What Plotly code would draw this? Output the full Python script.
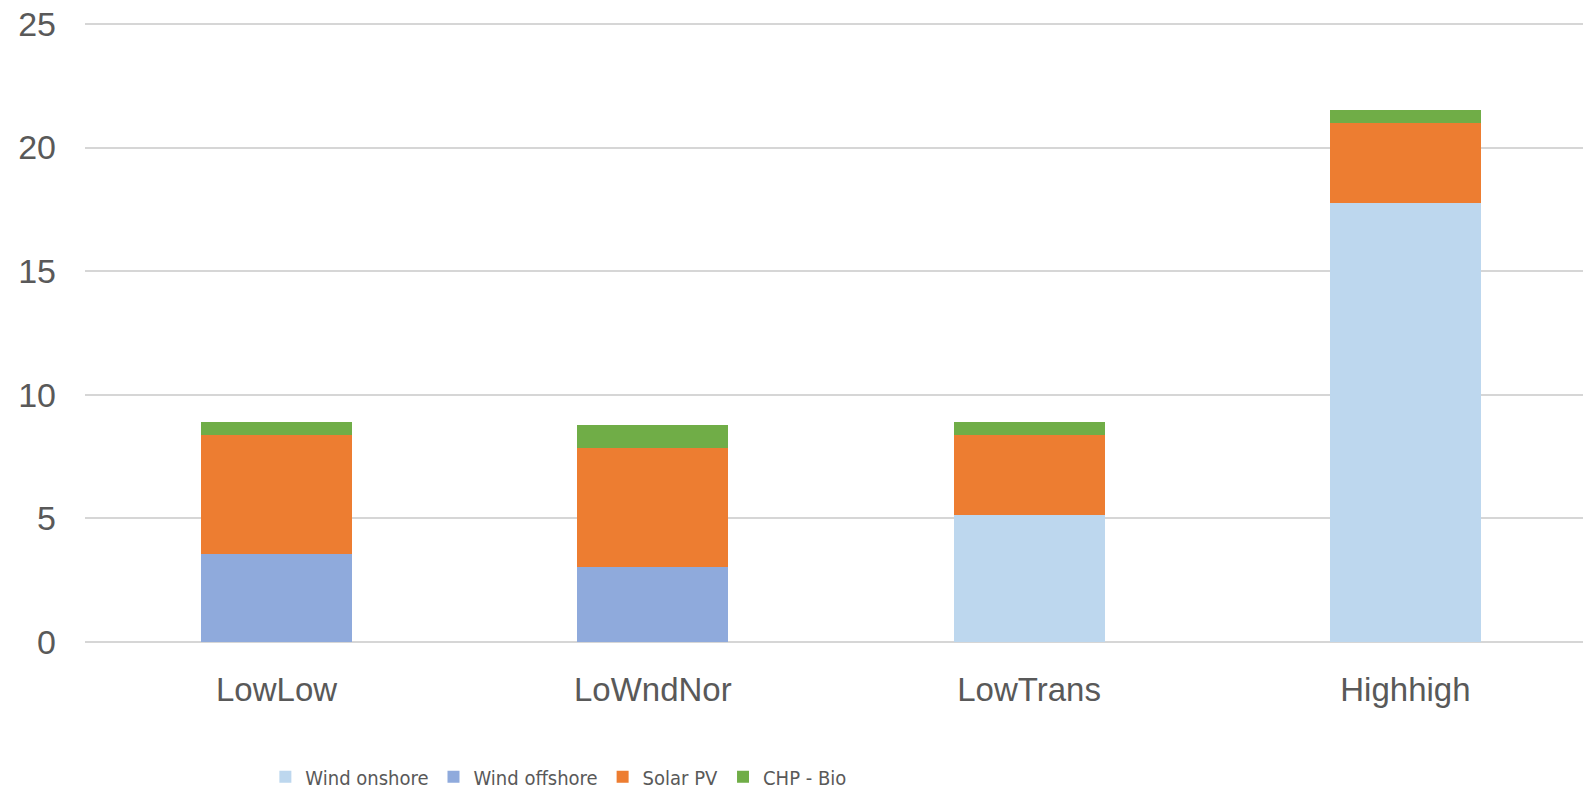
import plotly.graph_objects as go

categories = ["LowLow", "LoWndNor", "LowTrans", "Highhigh"]
wind_onshore = [0, 0, 5.14, 17.76]
wind_offshore = [3.57, 3.03, 0, 0]
solar_pv = [4.80, 4.83, 3.23, 3.24]
chp_bio = [0.53, 0.92, 0.53, 0.52]
y_ticks = [0, 5, 10, 15, 20, 25]

series = [
    ("Wind onshore", wind_onshore, "#BDD7EE"),
    ("Wind offshore", wind_offshore, "#8FAADC"),
    ("Solar PV", solar_pv, "#ED7D31"),
    ("CHP - Bio", chp_bio, "#70AD47"),
]

fig = go.Figure()
for name, vals, col in series:
    fig.add_trace(go.Bar(
        x=categories, y=vals, name=name, marker=dict(color=col, line=dict(width=0)),
        width=0.401,
    ))

fig.update_layout(
    barmode="stack",
    width=1583, height=789,
    margin=dict(l=85, r=0, t=21, b=147, autoexpand=False),
    paper_bgcolor="white", plot_bgcolor="white",
    font=dict(family="Liberation Sans, Arial, sans-serif", color="#595959", size=34),
    xaxis=dict(
        range=[-0.509, 3.472], showgrid=False, showline=False, ticks="",
        ticklabelstandoff=25, tickfont=dict(size=33, color="#595959"),
    ),
    yaxis=dict(
        range=[0, 25.12], tickvals=y_ticks, showgrid=True, gridcolor="#d6d6d6", gridwidth=2,
        zeroline=True, zerolinecolor="#d6d6d6", zerolinewidth=2, showline=False, ticks="",
        ticklabelstandoff=28, tickfont=dict(size=34, color="#595959"),
    ),
    legend=dict(
        orientation="h", x=0.316, xanchor="center", y=-0.217, yanchor="middle",
        font=dict(family="Liberation Sans Narrow, DejaVu Sans Condensed, Arial Narrow, Liberation Sans", size=20, color="#595959"),
        itemwidth=30, traceorder="normal",
    ),
    bargap=0,
)

fig.write_html("out.html")
